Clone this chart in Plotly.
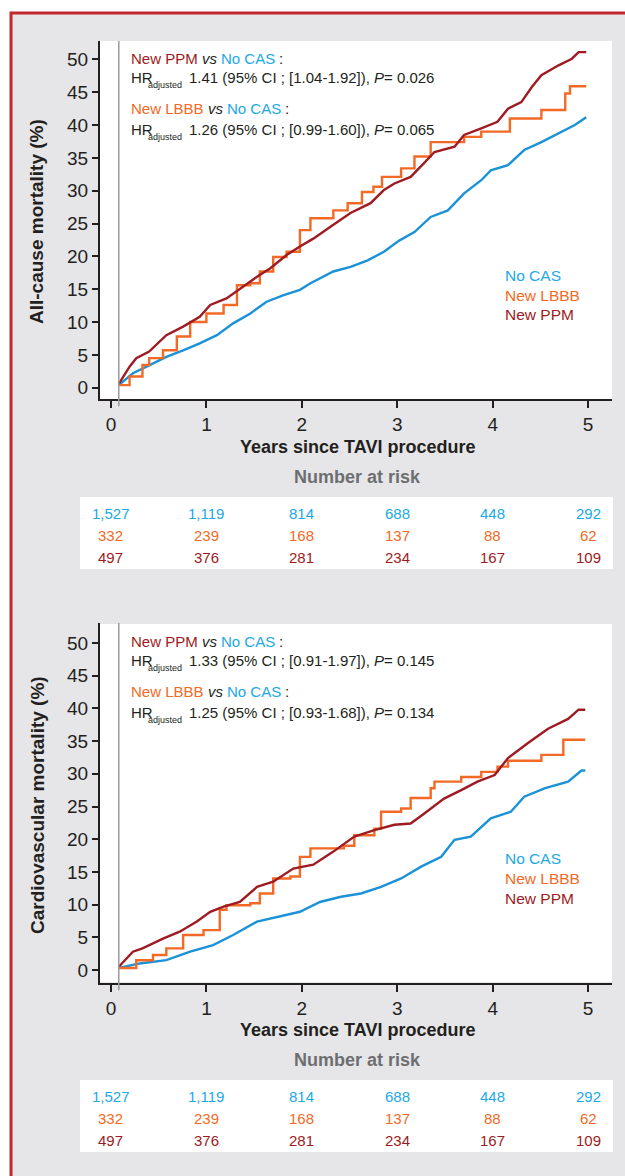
import plotly.graph_objects as go

# ---------------- data ----------------
years_ticks = [0, 1, 2, 3, 4, 5]
mort_ticks = [0, 5, 10, 15, 20, 25, 30, 35, 40, 45, 50]
group_names = ["No CAS", "New LBBB", "New PPM"]

# All-cause mortality (%)
ac_nocas_t = [0.082, 0.23, 0.405, 0.58, 0.756, 0.93, 1.11, 1.28, 1.46, 1.63, 1.81, 1.98, 2.09, 2.33, 2.51,
              2.69, 2.86, 3.02, 3.18, 3.35, 3.53, 3.70, 3.88, 3.98, 4.16, 4.33, 4.51, 4.69, 4.86, 4.98]
ac_nocas_v = [0.4, 2.2, 3.45, 4.7, 5.7, 6.75, 8.0, 9.8, 11.3, 13.1, 14.1, 14.9, 15.9, 17.7, 18.4,
              19.4, 20.7, 22.4, 23.7, 26.0, 27.0, 29.6, 31.6, 33.1, 33.9, 36.2, 37.4, 38.7, 40.0, 41.2]
ac_lbbb_t = [0.082, 0.195, 0.33, 0.40, 0.545, 0.69, 0.83, 1.0, 1.18, 1.32, 1.46, 1.56, 1.70, 1.84, 1.98,
             2.09, 2.33, 2.48, 2.63, 2.75, 2.84, 3.04, 3.18, 3.35, 3.70, 3.88, 4.18, 4.51, 4.76, 4.81, 4.98]
ac_lbbb_v = [0.4, 1.7, 3.45, 4.5, 5.7, 7.8, 10.0, 11.3, 12.6, 15.6, 15.9, 17.7, 19.9, 20.7, 24.0,
             25.8, 27.0, 28.1, 29.8, 30.6, 32.1, 33.4, 35.2, 37.4, 38.2, 39.0, 41.0, 42.3, 44.8, 45.9, 45.9]
ac_ppm_t = [0.082, 0.195, 0.265, 0.40, 0.58, 0.756, 0.93, 1.04, 1.21, 1.35, 1.53, 1.67, 1.84, 1.98, 2.12,
            2.33, 2.51, 2.72, 2.86, 2.97, 3.14, 3.28, 3.39, 3.60, 3.70, 3.88, 4.05, 4.16, 4.30, 4.41,
            4.51, 4.69, 4.83, 4.90, 4.98]
ac_ppm_v = [0.6, 3.2, 4.5, 5.5, 8.0, 9.3, 10.8, 12.6, 13.6, 15.1, 16.9, 18.2, 20.2, 21.5, 22.7,
            24.8, 26.6, 28.1, 30.1, 31.1, 32.1, 34.2, 35.9, 36.7, 38.5, 39.5, 40.5, 42.5, 43.5, 45.8,
            47.6, 49.1, 50.1, 51.1, 51.1]

# Cardiovascular mortality (%)
cv_nocas_t = [0.082, 0.3, 0.58, 0.83, 1.07, 1.28, 1.53, 1.77, 1.98, 2.19, 2.41, 2.62, 2.83, 3.04, 3.25,
              3.46, 3.60, 3.77, 3.98, 4.19, 4.33, 4.55, 4.79, 4.93, 4.97]
cv_nocas_v = [0.3, 1.0, 1.5, 2.8, 3.8, 5.35, 7.4, 8.15, 8.9, 10.4, 11.2, 11.7, 12.7, 14.0, 15.8,
              17.3, 19.9, 20.4, 23.2, 24.2, 26.5, 27.8, 28.8, 30.5, 30.5]
cv_lbbb_t = [0.082, 0.265, 0.44, 0.58, 0.756, 0.97, 1.14, 1.21, 1.46, 1.56, 1.70, 1.88, 1.98, 2.09, 2.44,
             2.55, 2.76, 2.83, 3.04, 3.14, 3.35, 3.39, 3.67, 3.88, 4.05, 4.16, 4.51, 4.74, 4.97]
cv_lbbb_v = [0.3, 1.5, 2.3, 3.3, 5.35, 6.1, 9.2, 9.9, 10.2, 11.7, 14.0, 14.3, 17.3, 18.6, 19.0,
             20.6, 21.6, 24.2, 24.7, 26.3, 27.8, 28.8, 29.5, 30.3, 31.1, 32.0, 32.9, 35.2, 35.2]
cv_ppm_t = [0.082, 0.23, 0.33, 0.545, 0.72, 0.90, 1.04, 1.18, 1.35, 1.53, 1.70, 1.91, 2.12, 2.33, 2.55,
            2.76, 2.97, 3.14, 3.28, 3.49, 3.67, 3.84, 4.02, 4.16, 4.37, 4.47, 4.58, 4.79, 4.90, 4.97]
cv_ppm_v = [0.5, 2.8, 3.3, 4.8, 5.85, 7.4, 8.9, 9.7, 10.4, 12.7, 13.5, 15.5, 16.1, 18.1, 20.4,
            21.4, 22.2, 22.4, 23.9, 26.2, 27.5, 28.8, 29.8, 32.4, 34.7, 35.7, 36.9, 38.4, 39.8, 39.8]

# Number at risk
risk_nocas = ["1,527", "1,119", "814", "688", "448", "292"]
risk_lbbb = ["332", "239", "168", "137", "88", "62"]
risk_ppm = ["497", "376", "281", "234", "167", "109"]

# Hazard-ratio texts: (estimate and CI, P value)
hr_ac = [("1.41 (95% CI ; [1.04-1.92]), ", "= 0.026"), ("1.26 (95% CI ; [0.99-1.60]), ", "= 0.065")]
hr_cv = [("1.33 (95% CI ; [0.91-1.97]), ", "= 0.145"), ("1.25 (95% CI ; [0.93-1.68]), ", "= 0.134")]

# ---------------- style ----------------
W, H = 625, 1176
FONT = "Liberation Sans, Arial, Helvetica, sans-serif"
DARK = "#231f20"
C_BLUE_LINE = "#1b92d8"
C_BLUE_TXT = "#21a9e6"
C_ORANGE = "#f26a25"
C_RED = "#9e1b22"
C_GRAY_BG = "#e6e6e8"
C_BORDER = "#c1272d"
TXT = 15  # size of the HR texts

# Arial / Liberation Sans advance widths (1/1000 em) for the HR strings
ADV = {c: 556 for c in "0123456789"}
ADV.update({".": 278, " ": 278, "(": 333, ")": 333, "%": 889, "C": 722, "I": 278, ";": 278,
            "[": 278, "]": 278, "-": 333, ",": 278, "=": 584, "P": 667, "N": 722, "e": 556,
            "w": 722, "M": 833, "L": 556, "B": 667, "v": 500, "s": 500, "o": 556, "A": 667,
            "S": 667, ":": 278})


def text_w(s, size):
    return sum(ADV.get(c, 556) for c in s) * size / 1000.0


def px(x):
    return x / W


def py(y):
    return 1 - y / H


panels = [
    dict(off=0, xa="x", ya="y", title="All-cause mortality (%)", hr=hr_ac, yrange=[-1.72, 52.8],
         curves=[(ac_nocas_t, ac_nocas_v, C_BLUE_LINE, "linear"),
                 (ac_lbbb_t, ac_lbbb_v, C_ORANGE, "hv"),
                 (ac_ppm_t, ac_ppm_v, C_RED, "linear")]),
    dict(off=583, xa="x2", ya="y2", title="Cardiovascular mortality (%)", hr=hr_cv, yrange=[-1.99, 53.06],
         curves=[(cv_nocas_t, cv_nocas_v, C_BLUE_LINE, "linear"),
                 (cv_lbbb_t, cv_lbbb_v, C_ORANGE, "hv"),
                 (cv_ppm_t, cv_ppm_v, C_RED, "linear")]),
]

fig = go.Figure()
shapes = [
    dict(type="rect", xref="paper", yref="paper", x0=px(11), x1=px(W + 20), y0=py(13), y1=py(H + 20),
         fillcolor=C_GRAY_BG, line=dict(color=C_BORDER, width=3), layer="below"),
]
annotations = []


def seg(text, x, y, size, color, style="normal", weight="normal", anchor="left"):
    annotations.append(dict(text=text, xref="paper", yref="paper", x=px(x), y=py(y), showarrow=False,
                            font=dict(family=FONT, size=size, color=color, style=style, weight=weight),
                            xanchor=anchor, yanchor="middle"))


for i, p in enumerate(panels):
    o = p["off"]
    for (t, v, col, shape) in p["curves"]:
        fig.add_trace(go.Scatter(x=t, y=v, mode="lines", line=dict(color=col, width=2.4, shape=shape),
                                 xaxis=p["xa"], yaxis=p["ya"], showlegend=False, hoverinfo="skip"))
    # plot area white
    shapes.append(dict(type="rect", xref="paper", yref="paper", x0=px(100), x1=px(612), y0=py(399 + o),
                       y1=py(41 + o), fillcolor="white", line=dict(width=0), layer="below"))
    # risk table box
    shapes.append(dict(type="rect", xref="paper", yref="paper", x0=px(80), x1=px(613), y0=py(569 + o),
                       y1=py(497 + o), fillcolor="white", line=dict(width=0), layer="below"))
    # 30-day landmark line
    shapes.append(dict(type="line", xref=p["xa"], yref=p["ya"] + " domain", x0=0.082, x1=0.082, y0=-0.02, y1=1,
                       line=dict(color="#9b9b9b", width=1.5)))
    # y title
    annotations.append(dict(text=p["title"], xref="paper", yref="paper", x=px(37), y=py(222 + o),
                            textangle=-90, showarrow=False,
                            font=dict(family=FONT, size=19, color=DARK, weight="bold"),
                            xanchor="center", yanchor="middle"))
    # x title and number at risk title
    seg("Years since TAVI procedure", 357, 447 + o, 18, DARK, weight="bold", anchor="center")
    seg("Number at risk", 357, 477 + o, 18, "#6d6e71", weight="bold", anchor="center")
    # risk numbers
    for row, (vals, col) in enumerate([(risk_nocas, C_BLUE_TXT), (risk_lbbb, C_ORANGE), (risk_ppm, C_RED)]):
        for tv, val in zip(years_ticks, vals):
            annotations.append(dict(text=val, xref=p["xa"], yref="paper", x=tv, y=py(513 + 22 * row + o),
                                    showarrow=False, font=dict(family=FONT, size=15, color=col),
                                    xanchor="center", yanchor="middle"))
    # legend labels
    for row, (name, col) in enumerate(zip(group_names, [C_BLUE_TXT, C_ORANGE, C_RED])):
        seg(name, 503, 275 + 20 * row + o, 15.5, col)
    # HR texts
    comps = [("New PPM", C_RED), ("New LBBB", C_ORANGE)]
    head_y = [58.5, 108.5]
    hr_y = [77.5, 129.5]
    x0 = 129
    for k, ((lab, col), (est, pval)) in enumerate(zip(comps, p["hr"])):
        yh = head_y[k] + o
        xx = x0
        seg(lab, xx, yh, TXT, col)
        xx += text_w(lab + " ", TXT)
        seg("vs", xx, yh, TXT, DARK, style="italic")
        xx += text_w("vs ", TXT)
        seg("No CAS", xx, yh, TXT, C_BLUE_TXT)
        xx += text_w("No CAS ", TXT)
        seg(":", xx, yh, TXT, DARK)
        yb = hr_y[k] + o
        seg("HR", x0, yb, TXT, DARK)
        seg("adjusted", x0 + text_w("HR", TXT) + 0.5, yb + 7.5, 9, DARK)
        xx = 187
        seg(est, xx, yb, TXT, DARK)
        xx += text_w(est, TXT)
        seg("P", xx, yb, TXT, DARK, style="italic")
        xx += text_w("P", TXT)
        seg(pval, xx, yb, TXT, DARK)

axis_common = dict(showline=True, linecolor=DARK, linewidth=2, ticks="outside", tickcolor=DARK,
                   tickwidth=1.5, showgrid=False, zeroline=False, tickfont=dict(family=FONT, size=19, color=DARK))

fig.update_layout(
    width=W, height=H, margin=dict(l=0, r=0, t=0, b=0),
    paper_bgcolor="white", plot_bgcolor="white", showlegend=False,
    shapes=shapes, annotations=annotations,
    xaxis=dict(domain=[px(100), px(612)], range=[-0.115, 5.25], tickvals=years_ticks, ticklen=7,
               anchor="y", **axis_common),
    yaxis=dict(domain=[py(399), py(41)], range=panels[0]["yrange"], tickvals=mort_ticks, ticklen=6,
               anchor="x", **axis_common),
    xaxis2=dict(domain=[px(100), px(612)], range=[-0.115, 5.25], tickvals=years_ticks, ticklen=7,
                anchor="y2", **axis_common),
    yaxis2=dict(domain=[py(983), py(623)], range=panels[1]["yrange"], tickvals=mort_ticks, ticklen=6,
                anchor="x2", **axis_common),
)

fig.write_html("out.html")
